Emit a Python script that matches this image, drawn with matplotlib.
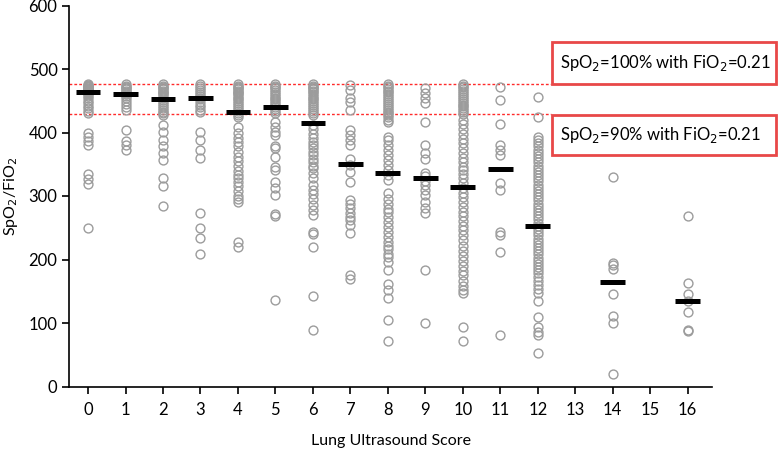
import matplotlib
matplotlib.use("Agg")
import matplotlib.pyplot as plt
from matplotlib.patches import Rectangle

plt.rcParams['font.family'] = ['Lato', 'DejaVu Sans']

# Lung ultrasound score columns
scores = [0, 1, 2, 3, 4, 5, 6, 7, 8, 9, 10, 11, 12, 14, 16]

# SpO2/FiO2 values, one list per score
s0 = [476, 475, 474, 473, 472, 470, 469, 468, 467, 466, 465, 464, 462, 460, 457, 454,
      450, 446, 442, 438, 434, 430, 400, 393, 387, 380, 334, 326, 319, 250]
s1 = [476, 474, 472, 470, 468, 466, 464, 462, 460, 458, 455, 450, 445, 440, 435,
      404, 386, 380, 372]
s2 = [476, 474, 472, 470, 468, 466, 464, 462, 460, 457, 454, 451, 448, 445, 442,
      439, 436, 433, 430, 427, 412, 401, 388, 379, 367, 357, 328, 316, 284]
s3 = [476, 473, 470, 467, 464, 461, 458, 455, 452, 448, 444, 440, 436, 432,
      401, 388, 372, 360, 274, 250, 234, 208]
s4 = [476, 474, 472, 470, 468, 466, 464, 462, 460, 458, 455, 452, 449, 446, 443,
      440, 437, 434, 431, 428, 425, 408, 400, 392, 385, 378, 370, 362, 355, 348,
      340, 333, 328, 322, 315, 308, 300, 295, 290, 228, 220]
s5 = [476, 474, 472, 470, 467, 464, 461, 458, 455, 452, 449, 446, 443, 440, 437,
      434, 431, 417, 409, 401, 396, 378, 375, 362, 346, 341, 322, 312, 302, 272,
      268, 136]
s6 = [476, 474, 472, 470, 468, 466, 464, 461, 458, 455, 452, 449, 446, 443, 440,
      437, 434, 431, 428, 412, 405, 398, 391, 385, 380, 375, 370, 364, 358, 354,
      348, 344, 336, 328, 318, 309, 303, 295, 286, 278, 270, 244, 240, 220, 142, 89]
s7 = [475, 467, 454, 448, 435, 404, 396, 388, 380, 359, 349, 338, 322, 294, 288,
      281, 273, 267, 262, 254, 241, 176, 169]
s8 = [476, 474, 472, 469, 466, 463, 460, 457, 454, 451, 448, 445, 442, 439, 436,
      433, 430, 427, 424, 420, 417, 393, 388, 380, 372, 364, 356, 349, 341, 333,
      325, 304, 296, 288, 280, 275, 267, 259, 251, 243, 235, 228, 222, 216, 209,
      204, 196, 183, 161, 152, 139, 104, 72]
s9 = [470, 462, 454, 446, 417, 380, 367, 359, 336, 331, 323, 318, 309, 302, 291,
      281, 273, 183, 100]
s10 = [476, 474, 471, 468, 465, 462, 459, 456, 453, 450, 447, 444, 441, 438, 435,
       432, 429, 420, 413, 405, 398, 390, 383, 376, 368, 360, 353, 346, 341, 334,
       328, 320, 312, 305, 298, 290, 282, 275, 268, 260, 252, 246, 238, 230, 222,
       214, 206, 197, 190, 182, 175, 166, 158, 152, 147, 94, 71]
s11 = [471, 451, 413, 380, 372, 365, 320, 309, 244, 238, 212, 81]
s12 = [456, 424, 393, 388, 383, 378, 373, 368, 363, 358, 353, 348, 343, 338, 333,
       328, 323, 318, 313, 308, 303, 298, 293, 288, 283, 278, 273, 268, 263, 258,
       253, 248, 243, 238, 233, 228, 223, 218, 213, 208, 203, 198, 193, 188, 183,
       178, 172, 166, 160, 153, 147, 134, 110, 94, 86, 81, 53]
s14 = [330, 195, 192, 185, 145, 111, 100, 19]
s16 = [268, 163, 145, 135, 118, 89, 88]
values = [s0, s1, s2, s3, s4, s5, s6, s7, s8, s9, s10, s11, s12, s14, s16]

# median bars as drawn
medians = [464, 461, 452, 454, 433, 440, 415, 351, 337, 329, 314, 343, 252, 165, 135]

# reference lines
line_100 = 476
line_90 = 429

W, H = 779, 450
fig = plt.figure(figsize=(W / 100, H / 100), dpi=100)
ax = fig.add_axes([69.3 / W, 1 - 386.5 / H, (712 - 69.3) / W, (386.5 - 5.5) / H])

for x, vals in zip(scores, values):
    ax.plot([x] * len(vals), vals, linestyle='none', marker='o', markersize=6.4,
            markerfacecolor='none', markeredgecolor='#9c9c9c', markeredgewidth=1.0,
            zorder=2)

for x, m in zip(scores, medians):
    ax.plot([x - 0.33, x + 0.33], [m, m], color='black', linewidth=3.6,
            solid_capstyle='butt', zorder=3)

x_end = (552 - 88.3) / 37.5
for yv in (line_100, line_90):
    ax.plot([-0.5, x_end], [yv, yv], color='#ff2a2a', linestyle=(0, (2, 1.5)),
            linewidth=1.0, clip_on=False, zorder=1)

ax.set_xlim(-0.5, 16.65)
ax.set_ylim(0, 600)
ax.set_xticks(list(range(0, 17)))
ax.set_yticks(range(0, 601, 100))
ax.tick_params(axis='both', labelsize=12, length=5, width=1.2, direction='out')
ax.tick_params(axis='x', pad=6)
for s in ('top', 'right'):
    ax.spines[s].set_visible(False)
for s in ('left', 'bottom'):
    ax.spines[s].set_linewidth(1.2)

ax.set_xlabel('Lung Ultrasound Score', fontsize=11.5, labelpad=12)
ax.set_ylabel('SpO$_2$/FiO$_2$', fontsize=11.5, labelpad=6)

# annotation boxes, in figure pixels
boxes = [(42, 84, 'SpO$_2$=100% with FiO$_2$=0.21'),
         (115, 155, 'SpO$_2$=90% with FiO$_2$=0.21')]
for top, bot, txt in boxes:
    fig.patches.append(Rectangle((552 / W, 1 - bot / H), (776 - 552) / W, (bot - top) / H,
                                 transform=fig.transFigure, fill=False,
                                 edgecolor='#e84848', linewidth=2))
    fig.text(560 / W, 1 - (top + bot) / 2 / H, txt, fontsize=12, va='center', ha='left')

fig.savefig('out.png', dpi=100)
